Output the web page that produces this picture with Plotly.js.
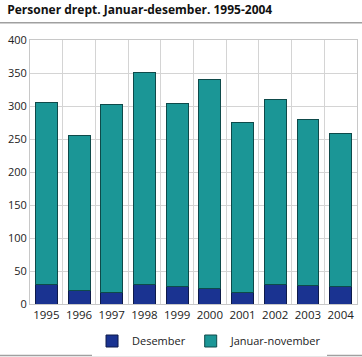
<!DOCTYPE html>
<html><head><meta charset="utf-8">
<script src="https://cdn.plot.ly/plotly-3.0.1.min.js"></script>
<style>html,body{margin:0;padding:0;background:#fff;}#c{width:362px;height:357px;}</style>
</head><body><div id="c"></div>
<script>
const years = ['1995','1996','1997','1998','1999','2000','2001','2002','2003','2004'];
const totals = [305,256,303,351,304,340,275,310,280,258];
const desember = [30,21,17,29,27,24,18,30,28,27];
const janNov = totals.map((t,i)=>t-desember[i]);
const yTicks = [0,50,100,150,200,250,300,350,400];

const font = {family:'"Open Sans", "DejaVu Sans", sans-serif', size:11, color:'#222'};
const traces = [
  {type:'bar', name:'Desember', x:years, y:desember, marker:{color:'#1a3391', line:{color:'#0d1a4a', width:1}}},
  {type:'bar', name:'Januar-november', x:years, y:janNov, marker:{color:'#1b9696', line:{color:'#0e4a4a', width:1}}}
];
const W = 327, H = 264;
const layout = {
  width:362, height:357, barmode:'stack', bargap:0.33,
  margin:{l:30, r:5, t:40, b:53, autoexpand:false},
  font:font, showlegend:true,
  paper_bgcolor:'#fff', plot_bgcolor:'#fff',
  title:{text:'<b>Personer drept. Januar-desember. 1995-2004</b>', x:0.02, xanchor:'left', y:0.985, yanchor:'top', font:{family:font.family, size:12, color:'#111'}},
  xaxis:{type:'category', tickson:'boundaries', showgrid:true, gridcolor:'#d4d4d4', ticks:'', tickangle:0, showline:true, linecolor:'#c8c8c8', mirror:true, tickfont:{size:11.5}, fixedrange:true, automargin:false},
  yaxis:{range:[0,400], tickvals:yTicks, showgrid:true, gridcolor:'#d4d4d4', zeroline:false, showline:true, linecolor:'#c8c8c8', mirror:true, ticks:'', ticklen:0, tickfont:{size:11}, fixedrange:true, automargin:false},
  legend:{orientation:'h', x:0.549, xanchor:'center', y:(304-341)/H, yanchor:'middle', font:{size:11}, traceorder:'normal'},
  shapes:[
    {type:'line', xref:'paper', yref:'paper', x0:-30/W, x1:332/W, y0:(304-22.7)/H, y1:(304-22.7)/H, line:{color:'#a0a0a0', width:1.5}},
    {type:'line', xref:'paper', yref:'paper', x0:-30/W, x1:332/W, y0:(304-355.5)/H, y1:(304-355.5)/H, line:{color:'#a0a0a0', width:1.5}}
  ]
};
Plotly.newPlot('c', traces, layout, {displayModeBar:false, staticPlot:true});
</script></body></html>
